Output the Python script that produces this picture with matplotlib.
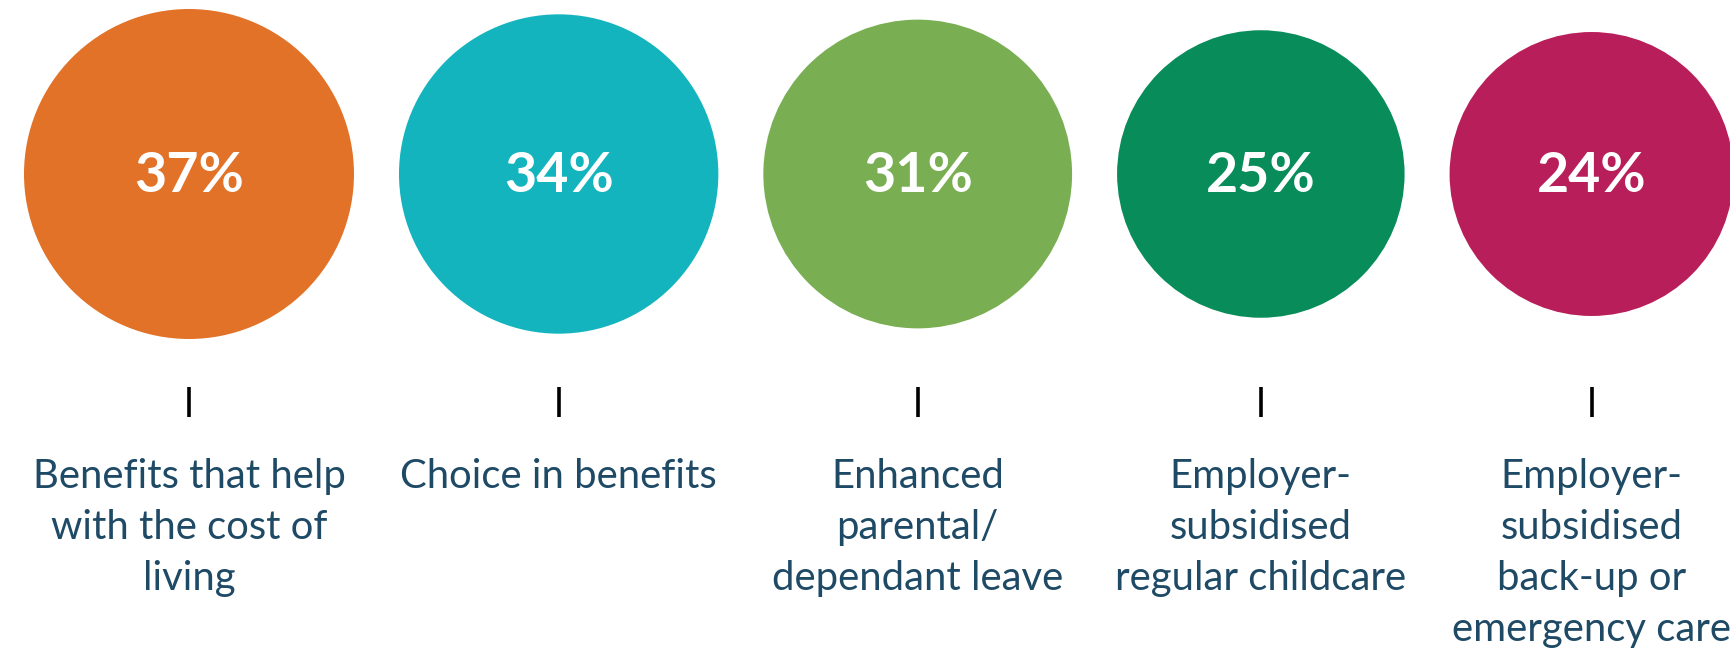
import matplotlib
matplotlib.use("Agg")
import matplotlib.pyplot as plt
from matplotlib.patches import Circle

# ---- data ----
categories = [
    "Benefits that help\nwith the cost of\nliving",
    "Choice in benefits",
    "Enhanced\nparental/\ndependant leave",
    "Employer-\nsubsidised\nregular childcare",
    "Employer-\nsubsidised\nback-up or\nemergency care",
]
values = [37, 34, 31, 25, 24]
value_labels = ["37%", "34%", "31%", "25%", "24%"]
colors = ["#E17227", "#14B4BF", "#79AF52", "#078C5A", "#B81F5A"]

# ---- layout (pixel space) ----
W, H = 1730, 653
fig = plt.figure(figsize=(W / 100, H / 100), dpi=100)
ax = fig.add_axes([0, 0, 1, 1])
ax.set_xlim(0, W)
ax.set_ylim(H, 0)
ax.set_aspect("equal")
ax.axis("off")

r_base, r_scale = 99.5, 1.77   # radius = r_base + r_scale * value
gap = 45
left = 24
cy = 174
tick_top, tick_bot = 387, 417
label_top = 458

radii = [r_base + r_scale * v for v in values]
centers = []
for i, r in enumerate(radii):
    if i == 0:
        centers.append(left + r)
    else:
        centers.append(centers[-1] + radii[i - 1] + gap + r)

label_color = "#1F4A66"
for cx, r, col, lab, cat in zip(centers, radii, colors, value_labels, categories):
    ax.add_patch(Circle((cx, cy), r, facecolor=col, edgecolor="none"))
    ax.text(cx, cy + 2, lab, ha="center", va="center", color="white",
            fontsize=40, fontweight="bold", family=["Lato", "DejaVu Sans"])
    ax.plot([cx, cx], [tick_top, tick_bot], color="black", lw=2.6, solid_capstyle="butt")
    ax.text(cx, label_top, cat, ha="center", va="top", color=label_color,
            fontsize=28.8, family=["Lato", "DejaVu Sans"], linespacing=1.47,
            multialignment="center")

fig.savefig("out.png", dpi=100)
